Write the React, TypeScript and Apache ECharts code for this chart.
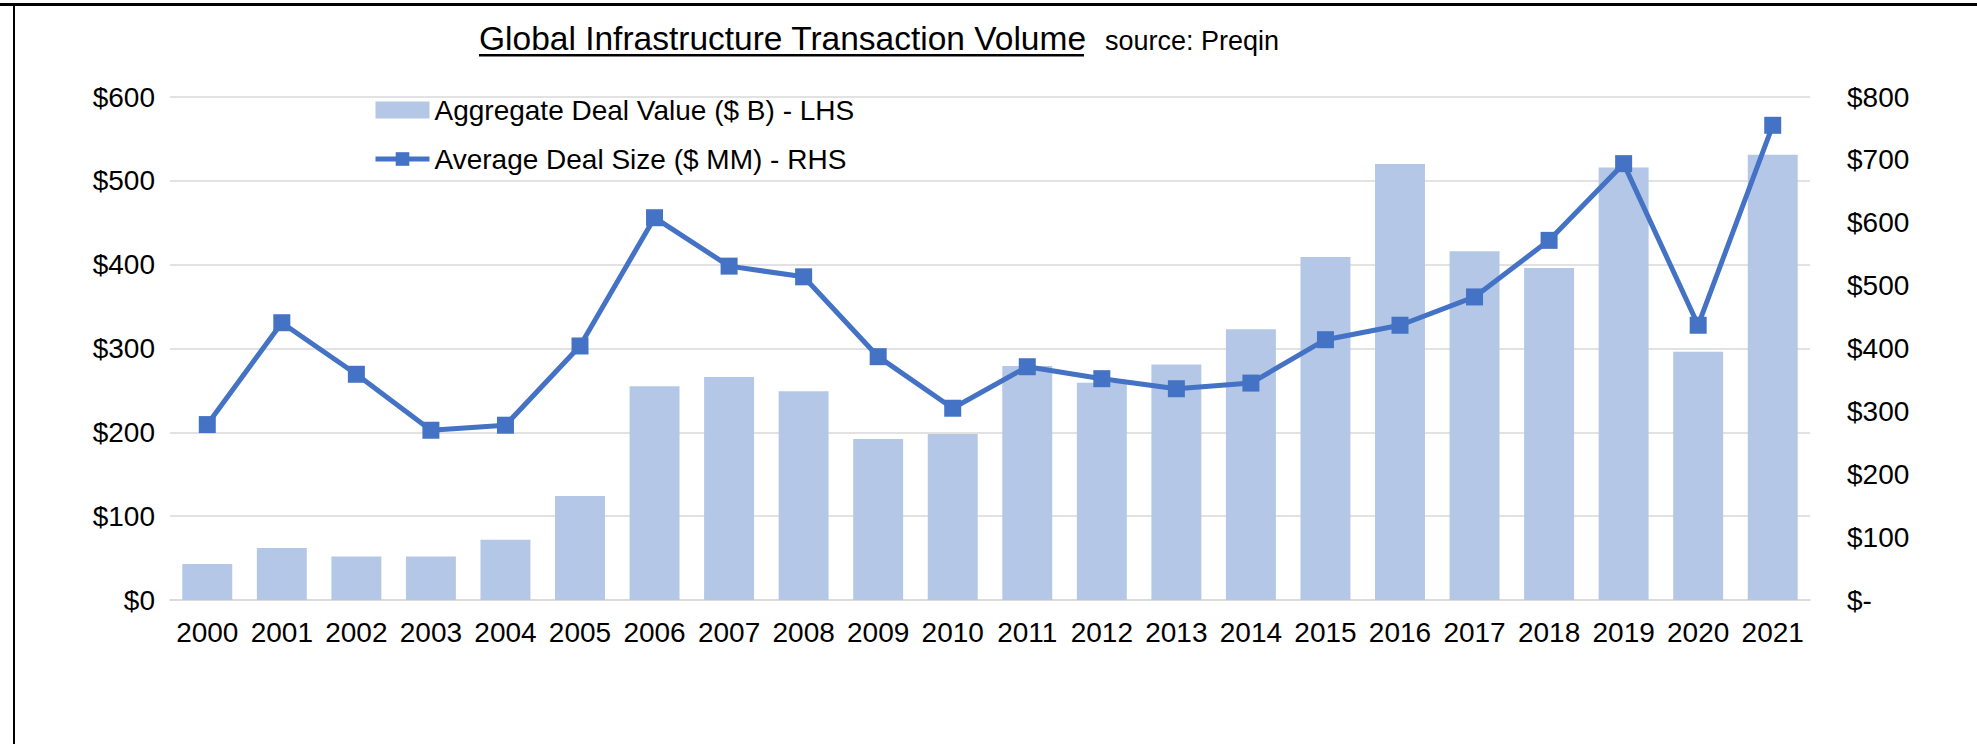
import React, { useEffect, useRef } from "react";
import * as echarts from "echarts";

const years = ["2000","2001","2002","2003","2004","2005","2006","2007","2008","2009","2010","2011","2012","2013","2014","2015","2016","2017","2018","2019","2020","2021"];
const aggregateDealValue = [43, 62, 52, 52, 72, 124, 255, 266, 249, 192, 198, 279, 259, 281, 323, 409, 520, 416, 396, 516, 296, 531];
const averageDealSize = [279, 441, 359, 270, 278, 404, 608, 531, 514, 387, 305, 371, 352, 336, 345, 414, 437, 482, 572, 694, 437, 755];
const barName = "Aggregate Deal Value ($ B) - LHS";
const lineName = "Average Deal Size ($ MM) - RHS";
const titleText = "Global Infrastructure Transaction Volume";
const sourceText = "source: Preqin";

const FONT = "'Liberation Sans', Arial, sans-serif";

export default function App() {
  const ref = useRef<HTMLDivElement>(null);
  useEffect(() => {
    document.body.style.margin = "0";
    const chart = echarts.init(ref.current!, null, { renderer: "svg" });
    chart.setOption({
      animation: false,
      backgroundColor: "#ffffff",
      textStyle: { fontFamily: FONT, color: "#000" },
      grid: { left: 170, right: 167, top: 97, bottom: 144, containLabel: false },
      legend: {
        orient: "vertical",
        left: 373,
        top: 96,
        padding: 0,
        itemGap: 21,
        itemWidth: 54,
        itemHeight: 17,
        textStyle: { fontSize: 28, fontFamily: FONT, color: "#000" },
        data: [
          { name: barName, icon: "rect", itemStyle: { color: "#b4c7e7" } },
          { name: lineName, lineStyle: { width: 5, color: "#4472c4" } },
        ],
      },
      xAxis: {
        type: "category",
        data: years,
        axisLine: { show: true, lineStyle: { color: "#d9d9d9", width: 1.5 } },
        axisTick: { show: false },
        axisLabel: { fontSize: 28, color: "#000", fontFamily: FONT, margin: 18, interval: 0 },
      },
      yAxis: [
        {
          type: "value",
          min: 0,
          max: 600,
          interval: 100,
          axisLine: { show: false },
          axisTick: { show: false },
          splitLine: { lineStyle: { color: "#d9d9d9", width: 1.5 } },
          axisLabel: {
            fontSize: 28,
            color: "#000",
            fontFamily: FONT,
            margin: 15,
            formatter: (v: number) => "$" + v,
          },
        },
        {
          type: "value",
          min: 0,
          max: 800,
          interval: 100,
          axisLine: { show: false },
          axisTick: { show: false },
          splitLine: { show: false },
          axisLabel: {
            fontSize: 28,
            color: "#000",
            fontFamily: FONT,
            margin: 37,
            formatter: (v: number) => (v === 0 ? "$-" : "$" + v),
          },
        },
      ],
      series: [
        {
          name: barName,
          type: "bar",
          data: aggregateDealValue,
          yAxisIndex: 0,
          barCategoryGap: "33%",
          itemStyle: { color: "#b4c7e7" },
          z: 2,
        },
        {
          name: lineName,
          type: "line",
          data: averageDealSize,
          yAxisIndex: 1,
          symbol: "rect",
          symbolSize: 17,
          lineStyle: { color: "#4472c4", width: 5 },
          itemStyle: { color: "#4472c4" },
          z: 3,
        },
      ],
      graphic: [
        { type: "rect", shape: { x: 0, y: 3, width: 1977, height: 3 }, style: { fill: "#000" } },
        { type: "rect", shape: { x: 13, y: 3, width: 2, height: 741 }, style: { fill: "#000" } },
        {
          type: "text",
          x: 479,
          y: 38,
          style: { text: titleText, font: "33.5px " + FONT, fill: "#000", textAlign: "left", textVerticalAlign: "middle" },
        },
        { type: "rect", shape: { x: 479, y: 54, width: 605, height: 2.5 }, style: { fill: "#000" } },
        {
          type: "text",
          x: 1105,
          y: 41,
          style: { text: sourceText, font: "27px " + FONT, fill: "#000", textAlign: "left", textVerticalAlign: "middle" },
        },
      ],
    });
    return () => chart.dispose();
  }, []);
  return <div ref={ref} style={{ width: 1977, height: 744 }} />;
}
